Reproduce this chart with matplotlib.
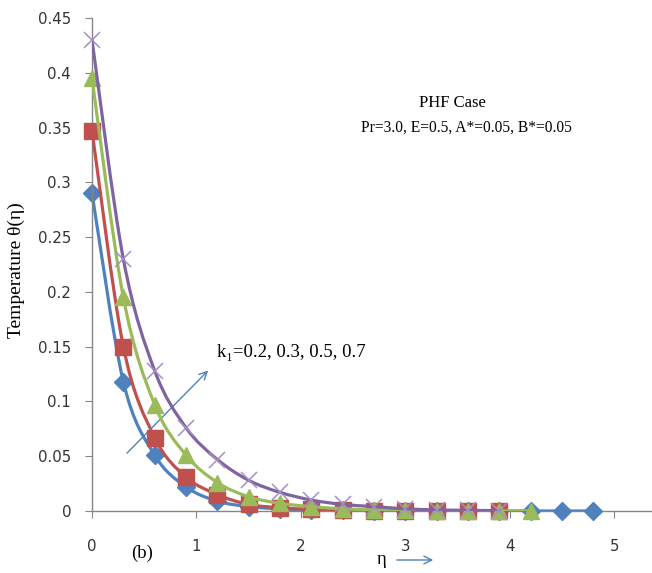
import numpy as np
import matplotlib
matplotlib.use("Agg")
import matplotlib.pyplot as plt
from matplotlib.path import Path
from matplotlib.patches import PathPatch

# ---- data (markers every 0.3 in eta) ----
step = 0.3
theta_k02 = [0.290, 0.118, 0.051, 0.022, 0.009, 0.004, 0.002, 0.001, 0.0005,
             0.0003, 0.0002, 0.0001, 0.0, 0.0, 0.0, 0.0, 0.0]
theta_k03 = [0.347, 0.150, 0.067, 0.031, 0.015, 0.006, 0.003, 0.0015, 0.0008,
             0.0004, 0.0002, 0.0001, 0.0, 0.0]
theta_k05 = [0.395, 0.195, 0.097, 0.051, 0.026, 0.013, 0.007, 0.004, 0.002,
             0.001, 0.0005, 0.0003, 0.0001, 0.0, 0.0]
theta_k07 = [0.430, 0.230, 0.128, 0.076, 0.047, 0.028, 0.017, 0.010, 0.006,
             0.004, 0.002, 0.001, 0.0006, 0.0003]

x_ticks = [0, 1, 2, 3, 4, 5]
y_ticks = [0, 0.05, 0.1, 0.15, 0.2, 0.25, 0.3, 0.35, 0.4, 0.45]
y_ticklabels = ["0", "0.05", "0.1", "0.15", "0.2", "0.25", "0.3", "0.35", "0.4", "0.45"]

SERIF = ["Liberation Serif", "DejaVu Serif"]


def _smooth_path(x, y):
    # Catmull-Rom through the points, as cubic Bezier segments
    pts = np.column_stack([x, y])
    n = len(pts)
    verts = [pts[0]]
    codes = [Path.MOVETO]
    for i in range(n - 1):
        p0 = pts[max(i - 1, 0)]
        p1 = pts[i]
        p2 = pts[i + 1]
        p3 = pts[min(i + 2, n - 1)]
        c1 = p1 + (p2 - p0) / 6.0
        c2 = p2 - (p3 - p1) / 6.0
        verts += [c1, c2, p2]
        codes += [Path.CURVE4] * 3
    return Path(verts, codes)


fig = plt.figure(figsize=(6.52, 5.73), dpi=100)
ax = fig.add_axes([92 / 652, 1 - 511 / 573, (652 - 92) / 652, (511 - 18) / 573])

series = [
    (theta_k02, "#4F81BD", "D", 9.5, dict()),
    (theta_k03, "#C0504D", "s", 11, dict()),
    (theta_k05, "#9BBB59", "^", 11, dict()),
    (theta_k07, "#8064A2", "x", 11.5, dict(markeredgewidth=1.1)),
]

z = 2
for vals, col, mk, ms, extra in series:
    eta = np.arange(len(vals)) * step
    ax.add_patch(PathPatch(_smooth_path(eta, vals), fill=False, ec=col,
                           lw=2.3, zorder=z, capstyle="round"))
    mcol = "#A38FC4" if mk == "x" else col
    ax.plot(eta, vals, ls="none", marker=mk, ms=ms, color=mcol,
            zorder=z + 0.5, clip_on=False, **extra)
    z += 1

ax.set_xlim(0, 5.36)
ax.set_ylim(0, 0.45)
ax.set_xticks(x_ticks)
ax.set_yticks(y_ticks)
ax.set_yticklabels(y_ticklabels)
for s in ("top", "right"):
    ax.spines[s].set_visible(False)
for s in ("left", "bottom"):
    ax.spines[s].set_color("#868686")
    ax.spines[s].set_linewidth(1.0)
ax.spines["bottom"].set_zorder(1)
ax.tick_params(axis="both", direction="out", length=5, color="#868686",
               labelsize=10.8, labelcolor="#333333")
ax.tick_params(axis="x", pad=15)
ax.tick_params(axis="y", pad=10)

# annotations
ax.text((452 - 92) / 560, 0.828, "PHF Case", family=SERIF, fontsize=12,
        ha="center", va="center", transform=ax.transAxes)
ax.text((466 - 92) / 560, 0.777, "Pr=3.0, E=0.5, A*=0.05, B*=0.05", family=SERIF,
        fontsize=11.2, ha="center", va="center", transform=ax.transAxes)
ax.text(1.20, 0.145, "k\u2081=0.2, 0.3, 0.5, 0.7", family=SERIF, fontsize=13.5,
        va="center")
ax.annotate("", xy=(1.13, 0.130), xytext=(0.316, 0.051),
            arrowprops=dict(arrowstyle="->", color="#4F81BD", lw=1.0,
                            mutation_scale=14))

fig.text(142 / 652, 1 - 553 / 573, "(b)", family=SERIF, fontsize=13.5,
         ha="center", va="center")
fig.text(382 / 652, 1 - 560 / 573, "\u03b7", family=SERIF, fontsize=13.5,
         ha="center", va="center")
ax.annotate("", xy=(436 / 652, 1 - 560 / 573), xytext=(394 / 652, 1 - 560 / 573),
            xycoords="figure fraction", textcoords="figure fraction",
            annotation_clip=False,
            arrowprops=dict(arrowstyle="->", color="#4F81BD", lw=1.0,
                            mutation_scale=14))
fig.text(16 / 652, 1 - 270 / 573, "Temperature \u03b8(\u03b7)", family=SERIF,
         fontsize=14, rotation=90, ha="center", va="center")

plt.savefig("out.png", dpi=100)
plt.close(fig)
